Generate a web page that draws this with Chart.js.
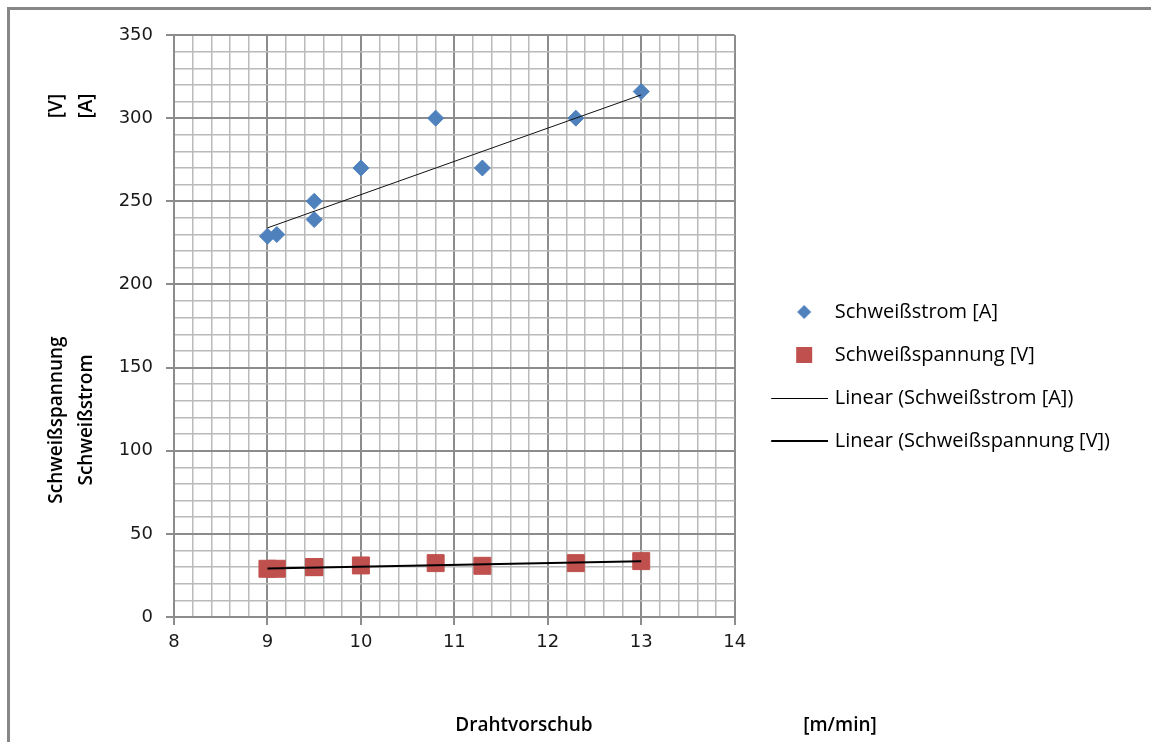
<!DOCTYPE html>
<html>
<head>
<meta charset="utf-8">
<script src="https://cdn.jsdelivr.net/npm/chart.js@4.4.1/dist/chart.umd.min.js"></script>
<style>
  html, body { margin: 0; padding: 0; background: #fff; }
  #wrap { position: relative; width: 1151px; height: 742px; overflow: hidden; }
  #frame { position: absolute; left: 7px; top: 7px; width: 1200px; height: 800px;
           border-left: 3px solid #878787; border-top: 3px solid #878787; }
  #myChart { position: absolute; left: 0; top: 0; }
</style>
</head>
<body>
<div id="wrap">
  <div id="frame"></div>
  <canvas id="myChart" width="1151" height="742"></canvas>
</div>
<script>
// values
const drahtvorschub = [9, 9.1, 9.5, 9.5, 10, 10.8, 11.3, 12.3, 13];
const schweissstrom = [229, 230, 250, 239, 270, 300, 270, 300, 316];
const schweissspannung = [29, 29, 30, 30, 31, 32.4, 30.8, 32.4, 33.6];
// trendline ends (Excel linear trend)
const trendX = [9, 13];
const trendStrom = [234, 314];
const trendSpannung = [29.2, 33.6];

const seriesNames = ['Schweißstrom [A]', 'Schweißspannung [V]',
  'Linear (Schweißstrom [A])', 'Linear (Schweißspannung [V])'];

const blue = '#4F81BD';
const red = '#C0504D';

const toPoints = (xs, ys) => xs.map((x, i) => ({x: x, y: ys[i]}));
const near = (v, step) => Math.abs(v / step - Math.round(v / step)) < 1e-6;

// legend icons as little canvases
const ICON_W = 74;
const legendIcon = (draw) => {
    const c = document.createElement('canvas');
    c.width = ICON_W;
    c.height = 24;
    const g = c.getContext('2d');
    draw(g);
    return c;
};
const icons = [
    legendIcon(g => {
        g.fillStyle = blue;
        g.beginPath();
        g.moveTo(50 - 7, 12); g.lineTo(50, 5); g.lineTo(50 + 7, 12); g.lineTo(50, 19);
        g.closePath();
        g.fill();
    }),
    legendIcon(g => {
        g.fillStyle = red;
        g.fillRect(50 - 8, 12 - 8, 16, 16);
    }),
    legendIcon(g => {
        g.strokeStyle = '#000';
        g.lineWidth = 1;
        g.beginPath(); g.moveTo(17, 12.5); g.lineTo(ICON_W, 12.5); g.stroke();
    }),
    legendIcon(g => {
        g.strokeStyle = '#000';
        g.lineWidth = 2;
        g.beginPath(); g.moveTo(17, 12); g.lineTo(ICON_W, 12); g.stroke();
    })
];

const axisTitles = {
    id: 'axisTitles',
    afterDraw(chart) {
        const ctx = chart.ctx;
        ctx.save();
        ctx.fillStyle = '#000';
        ctx.font = '600 19px "Open Sans"';
        ctx.textAlign = 'center';
        ctx.textBaseline = 'middle';
        ctx.fillText('Drahtvorschub', 524, 726);
        ctx.fillText('[m/min]', 840, 726);
        const yTitle = (text, x, y) => {
            ctx.save();
            ctx.translate(x, y);
            ctx.rotate(-Math.PI / 2);
            ctx.fillText(text, 0, 0);
            ctx.restore();
        };
        yTitle('Schweißspannung', 57, 420);
        yTitle('Schweißstrom', 87, 420);
        yTitle('[V]', 57, 106);
        yTitle('[A]', 87, 106);
        ctx.restore();
    }
};

const data = {
    datasets: [{
        label: seriesNames[0],
        data: toPoints(drahtvorschub, schweissstrom),
        pointStyle: 'rectRot',
        pointRadius: 8,
        pointBorderWidth: 1,
        backgroundColor: blue,
        borderColor: blue,
        order: 2
    }, {
        label: seriesNames[1],
        data: toPoints(drahtvorschub, schweissspannung),
        pointStyle: 'rect',
        pointRadius: 12,
        pointBorderWidth: 1,
        backgroundColor: red,
        borderColor: red,
        order: 2
    }, {
        label: seriesNames[2],
        data: toPoints(trendX, trendStrom),
        showLine: true,
        borderColor: '#111',
        borderWidth: 1,
        pointRadius: 0,
        order: 1
    }, {
        label: seriesNames[3],
        data: toPoints(trendX, trendSpannung),
        showLine: true,
        borderColor: '#000',
        borderWidth: 2,
        pointRadius: 0,
        order: 1
    }]
};

const tickFont = {family: '"DejaVu Sans"', size: 18};

const config = {
    type: 'scatter',
    data: data,
    options: {
        responsive: false,
        animation: false,
        events: [],
        layout: {padding: {top: 35, left: 0, bottom: 0, right: 31}},
        scales: {
            x: {
                type: 'linear',
                min: 8,
                max: 14,
                afterFit: s => { s.height = 125; },
                border: {color: '#8c8c8c', width: 2},
                grid: {
                    color: c => near(c.tick.value, 1) ? '#8c8c8c' : '#bababa',
                    lineWidth: c => near(c.tick.value, 1) ? 2 : 1.5,
                    tickLength: 8,
                    tickColor: c => near(c.tick.value, 1) ? '#8c8c8c' : 'rgba(0,0,0,0)'
                },
                ticks: {
                    stepSize: 0.2,
                    autoSkip: false,
                    maxRotation: 0,
                    padding: 7,
                    color: '#1a1a1a',
                    font: tickFont,
                    callback: v => near(v, 1) ? String(Math.round(v)) : ''
                }
            },
            y: {
                type: 'linear',
                min: 0,
                max: 350,
                afterFit: s => { s.width = 174; },
                border: {color: '#8c8c8c', width: 2},
                grid: {
                    color: c => near(c.tick.value, 50) ? '#8c8c8c' : '#bababa',
                    lineWidth: c => near(c.tick.value, 50) ? 2 : 1.5,
                    tickLength: 8,
                    tickColor: c => near(c.tick.value, 50) ? '#8c8c8c' : 'rgba(0,0,0,0)'
                },
                ticks: {
                    stepSize: 10,
                    autoSkip: false,
                    padding: 13,
                    color: '#1a1a1a',
                    font: tickFont,
                    callback: v => near(v, 50) ? String(Math.round(v)) : ''
                }
            }
        },
        plugins: {
            tooltip: {enabled: false},
            legend: {
                position: 'right',
                align: 'start',
                maxWidth: 600,
                title: {display: true, text: ' ', font: {size: 10, lineHeight: 1.2}, padding: {top: 232, bottom: 0}},
                labels: {
                    usePointStyle: true,
                    pointStyleWidth: 67,
                    padding: 23,
                    color: '#000',
                    font: {family: '"Open Sans"', size: 20},
                    sort: (a, b) => a.datasetIndex - b.datasetIndex,
                    generateLabels: chart => {
                        const items = Chart.defaults.plugins.legend.labels.generateLabels(chart);
                        items.forEach(it => { it.pointStyle = icons[it.datasetIndex]; });
                        return items;
                    }
                }
            }
        }
    },
    plugins: [axisTitles]
};

const myChart = new Chart(document.getElementById('myChart'), config);
</script>
</body>
</html>
